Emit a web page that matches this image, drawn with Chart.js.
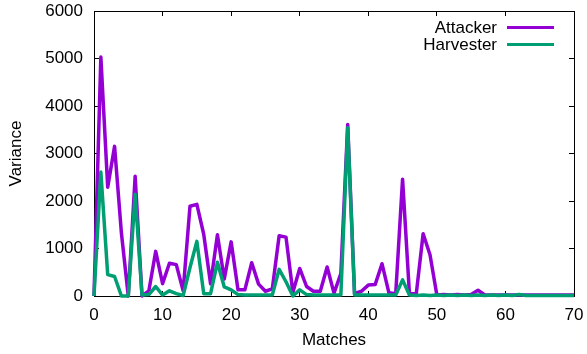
<!DOCTYPE html>
<html>
<head>
<meta charset="utf-8">
<script src="https://cdn.jsdelivr.net/npm/chart.js@4/dist/chart.umd.min.js"></script>
<style>
  html, body { margin: 0; padding: 0; background: #fff; }
</style>
</head>
<body>
<canvas id="c" width="587" height="354"></canvas>
<script>
const matches = [0, 1, 2, 3, 4, 5, 6, 7, 8, 9, 10, 11, 12, 13, 14, 15, 16, 17, 18, 19, 20,
    21, 22, 23, 24, 25, 26, 27, 28, 29, 30, 31, 32, 33, 34, 35, 36, 37, 38, 39, 40,
    41, 42, 43, 44, 45, 46, 47, 48, 49, 50, 51, 52, 53, 54, 55, 56, 57, 58, 59, 60,
    61, 62, 63, 64, 65, 66, 67, 68, 69, 70];
const attacker = [0, 5030, 2290, 3150, 1320, 0, 2520, 0, 110, 940, 260, 690, 660, 110, 1890, 1930,
    1300, 260, 1290, 360, 1140, 130, 130, 700, 250, 100, 150, 1270, 1240, 80, 580,
    200, 100, 100, 610, 60, 470, 3610, 50, 100, 230, 240, 680, 70, 50, 2460,
    50, 50, 1310, 870, 20, 30, 20, 30, 20, 30, 120, 20, 20, 20, 20,
    20, 20, 20, 20, 20, 20, 20, 20, 20, 20];
const harvester = [0, 2610, 450, 410, 0, 0, 2140, 20, 30, 200, 20, 110, 50, 10, 600, 1150,
    50, 50, 710, 190, 130, 30, 20, 20, 20, 20, 20, 560, 300, 0, 130,
    30, 20, 20, 20, 20, 20, 3540, 20, 20, 20, 20, 20, 20, 20, 340,
    20, 10, 20, 10, 20, 10, 20, 10, 20, 10, 20, 10, 20, 10, 20,
    10, 30, 10, 10, 10, 10, 10, 10, 10, 10];
const xTicks = [0, 10, 20, 30, 40, 50, 60, 70];
const yTicks = [0, 1000, 2000, 3000, 4000, 5000, 6000];

const FONT = "'Liberation Sans', Arial, Helvetica, sans-serif";

// key in the top right corner: right aligned label, sample line after it
const key = {
    id: "key",
    afterDraw(chart) {
        const ctx = chart.ctx;
        ctx.save();
        ctx.font = "17px " + FONT;
        ctx.textAlign = "right";
        ctx.textBaseline = "middle";
        chart.data.datasets.forEach((ds, i) => {
            const y = 28 + i * 17;
            ctx.fillStyle = "#000000";
            ctx.fillText(ds.label, 497, y);
            ctx.strokeStyle = ds.borderColor;
            ctx.lineWidth = 3;
            ctx.beginPath();
            ctx.moveTo(507, y - 0.5);
            ctx.lineTo(554, y - 0.5);
            ctx.stroke();
        });
        ctx.restore();
    }
};

// every side gets a black border and short ticks pointing into the plot
const frameGrid = { display: true, drawOnChartArea: false, drawTicks: true, tickLength: -5, color: "#000", lineWidth: 1 };
const frameBorder = { display: true, color: "#000", width: 1 };
const noPad = (s) => { s.paddingLeft = 0; s.paddingRight = 0; s.paddingTop = 0; s.paddingBottom = 0; };

new Chart(document.getElementById("c"), {
    type: "line",
    data: {
        labels: matches,
        datasets: [
            { label: "Attacker", data: attacker, borderColor: "#9400d3", order: 1 },
            { label: "Harvester", data: harvester, borderColor: "#009e73", order: 0 }
        ]
    },
    options: {
        responsive: false,
        animation: false,
        layout: { padding: { top: 11, right: 13, left: 0, bottom: 0 } },
        elements: {
            point: { radius: 0 },
            line: { borderWidth: 3.5, tension: 0, borderJoinStyle: "round", fill: false }
        },
        datasets: { line: { clip: false } },
        plugins: {
            legend: { display: false },
            tooltip: { enabled: false }
        },
        scales: {
            x: {
                type: "linear",
                position: "bottom",
                min: 0,
                max: 70,
                afterBuildTicks: (s) => { s.ticks = xTicks.map((v) => ({ value: v })); },
                afterFit: (s) => { s.height = 58; noPad(s); },
                grid: frameGrid,
                border: frameBorder,
                ticks: { color: "#000", font: { size: 17, family: FONT }, padding: 14, maxRotation: 0 },
                title: { display: true, text: "Matches", color: "#000", font: { size: 17, family: FONT }, padding: { top: 0, bottom: 3 } }
            },
            x2: {
                type: "linear",
                position: "top",
                min: 0,
                max: 70,
                afterBuildTicks: (s) => { s.ticks = xTicks.map((v) => ({ value: v })); },
                afterFit: (s) => { s.height = 0; noPad(s); },
                grid: frameGrid,
                border: frameBorder,
                ticks: { display: false }
            },
            y: {
                position: "left",
                min: 0,
                max: 6000,
                afterBuildTicks: (s) => { s.ticks = yTicks.map((v) => ({ value: v })); },
                afterFit: (s) => { s.width = 94; noPad(s); },
                grid: frameGrid,
                border: frameBorder,
                ticks: { color: "#000", font: { size: 17, family: FONT }, padding: 16, callback: (v) => String(v) },
                title: { display: true, text: "Variance", color: "#000", font: { size: 17, family: FONT }, padding: { top: 6, bottom: 0 } }
            },
            y2: {
                position: "right",
                min: 0,
                max: 6000,
                afterBuildTicks: (s) => { s.ticks = yTicks.map((v) => ({ value: v })); },
                afterFit: (s) => { s.width = 0; noPad(s); },
                grid: frameGrid,
                border: frameBorder,
                ticks: { display: false }
            }
        }
    },
    plugins: [key]
});
</script>
</body>
</html>
